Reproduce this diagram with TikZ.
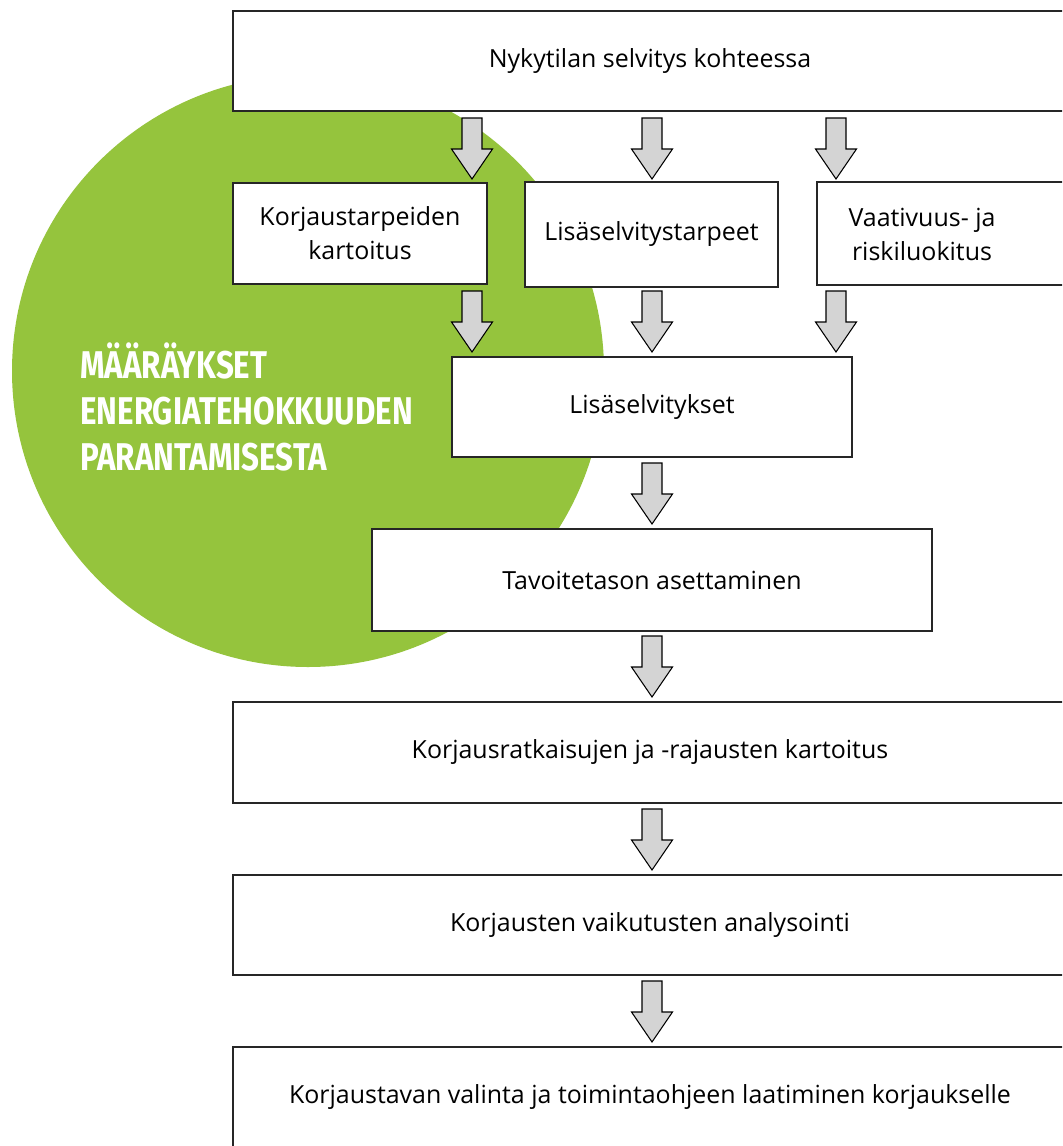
\documentclass[tikz,border=0pt]{standalone}
\usepackage{fontspec}
\setmainfont{Open Sans}
\newfontfamily\titlefont[FakeStretch=0.81]{Fira Sans}
\usetikzlibrary{calc}

\definecolor{leafgreen}{HTML}{95C43D}
\definecolor{arrowgray}{HTML}{D4D4D4}

\tikzset{
  box/.style={draw=black!85, fill=white, line width=0.6pt, align=center, inner sep=0pt,
    font=\fontsize{14.2}{19.3}\selectfont},
  boxtext/.style={align=center, inner sep=0pt, font=\fontsize{14.2}{19.3}\selectfont},
  downarr/.pic={
    \filldraw[fill=arrowgray, draw=black, line width=0.6pt, line join=miter]
      (-10,0) -- (10,0) -- (10,31) -- (20.5,31) -- (0,61) -- (-20.5,31) -- (-10,31) -- cycle;
  }
}

\begin{document}
\begin{tikzpicture}[x=0.02cm, y=-0.02cm]
        \clip (0,0) rectangle (1062,1146);
        \fill[white] (0,0) rectangle (1062,1146);

        % green circle behind the flow
        \fill[leafgreen] (308,371) circle (296);
        \node[anchor=north west, align=left, text=white, inner sep=0pt,
              font=\titlefont\bfseries\fontsize{22}{26.2}\selectfont] (title) at (80,342)
              {MÄÄRÄYKSET\\ENERGIATEHOKKUUDEN\\PARANTAMISESTA};

        % boxes
        \node[box, minimum width=834*0.02cm, minimum height=100*0.02cm] (nyk) at (650,61) {Nykytilan selvitys kohteessa};
        \node[box, minimum width=254*0.02cm, minimum height=101*0.02cm] (kor) at (360,233.5) {Korjaustarpeiden\\kartoitus};
        \node[box, minimum width=253*0.02cm, minimum height=105*0.02cm] (lst) at (651.5,234.5) {Lisäselvitystarpeet};
        \node[box, minimum width=254*0.02cm, minimum height=103*0.02cm] (vaa) at (944,233.5) {};
        \node[boxtext] (vaat) at ([xshift=-22*0.02cm, yshift=-1*0.02cm]vaa.center) {Vaativuus- ja\\riskiluokitus};
        \node[box, minimum width=400*0.02cm, minimum height=100*0.02cm] (lis) at (652,407) {Lisäselvitykset};
        \node[box, minimum width=560*0.02cm, minimum height=102*0.02cm] (tav) at (652,580) {Tavoitetason asettaminen};
        \node[box, minimum width=834*0.02cm, minimum height=101*0.02cm] (kra) at (650,752.5) {Korjausratkaisujen ja -rajausten kartoitus};
        \node[box, minimum width=834*0.02cm, minimum height=100*0.02cm] (kva) at (650,925) {Korjausten vaikutusten analysointi};
        \node[box, minimum width=834*0.02cm, minimum height=100*0.02cm] (kto) at (650,1097) {Korjaustavan valinta ja toimintaohjeen laatiminen korjaukselle};

        % block arrows
        \pic (a1) at (472,118) {downarr};
        \pic (a2) at (652,118) {downarr};
        \pic (a3) at (836,118) {downarr};
        \pic (b1) at (472,291) {downarr};
        \pic (b2) at (652,291) {downarr};
        \pic (b3) at (836,291) {downarr};
        \pic (c1) at (652,463) {downarr};
        \pic (d1) at (652,636) {downarr};
        \pic (e1) at (652,809) {downarr};
        \pic (f1) at (652,981) {downarr};
\end{tikzpicture}
\end{document}
